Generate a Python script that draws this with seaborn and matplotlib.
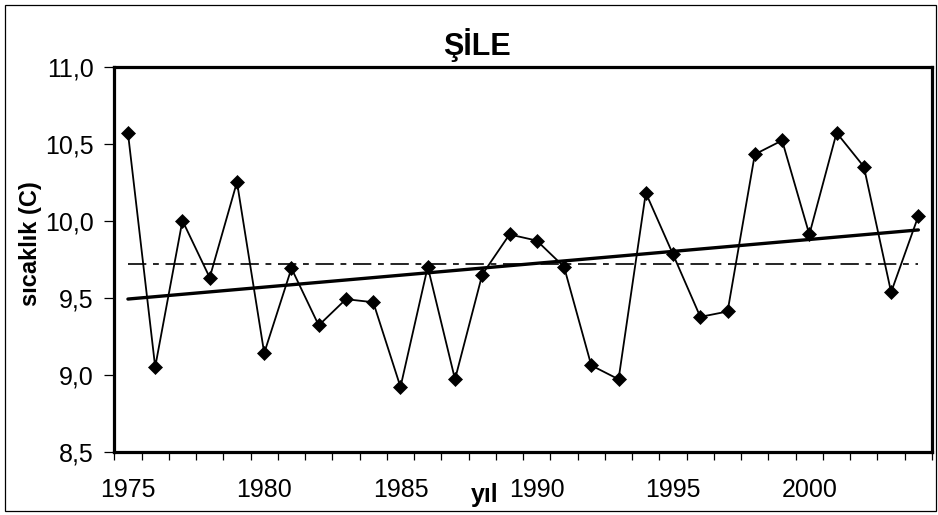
import numpy as np
import pandas as pd
import matplotlib
matplotlib.use("Agg")
import matplotlib.pyplot as plt
from matplotlib.patches import Rectangle
from matplotlib.ticker import FixedLocator, FuncFormatter
import seaborn as sns

years = list(range(1975, 2005))
temps = [10.57, 9.05, 10.00, 9.63, 10.25, 9.14, 9.69, 9.32, 9.49, 9.47,
         8.92, 9.70, 8.97, 9.65, 9.91, 9.87, 9.70, 9.06, 8.97, 10.18,
         9.78, 9.375, 9.41, 10.43, 10.52, 9.91, 10.57, 10.35, 9.535, 10.03]
x_tick_labels = [1975, 1980, 1985, 1990, 1995, 2000]
y_ticks = [8.5, 9.0, 9.5, 10.0, 10.5, 11.0]
title = "ŞİLE"
x_label = "yıl"
y_label = "sıcaklık (C)"

df = pd.DataFrame({"yil": years, "sicaklik": temps})

sns.set_theme(style="white")
plt.rcParams["font.family"] = ["Liberation Sans", "DejaVu Sans"]

fig = plt.figure(figsize=(9.38, 5.15), dpi=100)
ax = fig.add_axes([114.3 / 938, 63.3 / 515, (932 - 114.3) / 938, (451.7 - 66.5) / 515])

# data series
sns.lineplot(data=df, x="yil", y="sicaklik", ax=ax, color="black", linewidth=1.3,
             marker="D", markersize=7, markeredgecolor="black", markeredgewidth=0.5,
             markerfacecolor="black", zorder=4)

# linear trend
sns.regplot(data=df, x="yil", y="sicaklik", ax=ax, scatter=False, ci=None,
            color="black", line_kws={"linewidth": 2.4, "zorder": 3})

# mean line (dash-dot)
mean_val = float(np.mean(temps))
ax.plot([years[0], years[-1]], [mean_val, mean_val], color="black", linewidth=1.2,
        dashes=(11, 4, 3.5, 4), zorder=2)

ax.set_xlim(years[0] - 0.5, years[-1] + 0.5)
ax.set_ylim(y_ticks[0], y_ticks[-1])

ax.xaxis.set_major_locator(FixedLocator(x_tick_labels))
ax.xaxis.set_minor_locator(FixedLocator([y - 0.5 for y in years] + [years[-1] + 0.5]))
ax.set_yticks(y_ticks)
ax.yaxis.set_major_formatter(FuncFormatter(lambda v, p: f"{v:.1f}".replace(".", ",")))

ax.tick_params(axis="x", which="major", length=0, pad=19, labelsize=18, labelcolor="black")
ax.tick_params(axis="x", which="minor", length=6, width=0.9, color="black", direction="out", bottom=True)
ax.tick_params(axis="y", which="major", length=7, width=0.9, color="black", direction="out",
               left=True, pad=8, labelsize=18, labelcolor="black")

for s in ax.spines.values():
    s.set_linewidth(2.3)
    s.set_color("black")

ax.set_xlabel(x_label, fontsize=18, fontweight="bold", color="black")
ax.xaxis.set_label_coords(0.4535, -0.112)
ax.xaxis.label.set_va("center")
ax.set_ylabel(y_label, fontsize=17, fontweight="bold", color="black")
ax.yaxis.set_label_coords(-0.1027, 0.539)
ax.yaxis.label.set_va("center")

ax.text(0.444, 1.030, title, transform=ax.transAxes, ha="center", va="baseline",
        fontsize=22, fontweight="bold", color="black")

ax.grid(False)
ax.set_facecolor("white")

# outer chart border
fig.patches.append(Rectangle((5 / 938, 4 / 515), 931 / 938, 506 / 515, transform=fig.transFigure,
                             fill=False, edgecolor="black", linewidth=0.9))

fig.savefig("out.png", dpi=100)
